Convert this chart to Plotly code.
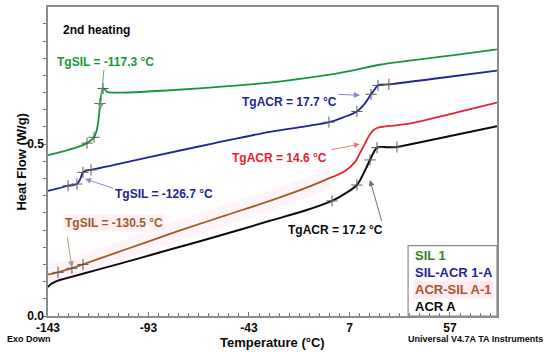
import plotly.graph_objects as go

# ---------------- data ----------------
sil1_x = [-143, -135, -128, -123.6, -120.1, -118.6, -117.6, -117.1, -116.3, -115.6, -114.8, -113.5,
          -110, -100, -84, -55, -28, -3, 10, 22, 40, 60, 80.4]
sil1_y = [0.468, 0.480, 0.492, 0.503, 0.520, 0.545, 0.585, 0.618, 0.650, 0.662, 0.660, 0.652,
          0.650, 0.651, 0.656, 0.668, 0.682, 0.702, 0.716, 0.731, 0.745, 0.760, 0.776]

silacr_x = [-143, -138, -133, -128.6, -127, -125.6, -123.5, -121.6, -110, -92, -60, -32.6, -15,
            -3.2, 4, 10.7, 14.5, 17.7, 20, 21.2, 24, 26.6, 50, 80.4]
silacr_y = [0.364, 0.371, 0.379, 0.384, 0.398, 0.418, 0.424, 0.425, 0.440, 0.463, 0.503, 0.536, 0.552,
            0.564, 0.578, 0.595, 0.617, 0.645, 0.663, 0.671, 0.673, 0.674, 0.691, 0.714]

acrsil_x = [-143, -140, -138, -131.1, -125.6, -110, -95, -77.3, -55, -32.6, -15, -2.7,
            4.8, 10, 12.2, 14.6, 17.2, 19, 20.7, 24, 27.2, 35, 42.1, 60, 80.4]
acrsil_y = [0.121, 0.124, 0.127, 0.139, 0.150, 0.182, 0.213, 0.249, 0.292, 0.335, 0.372, 0.402,
            0.422, 0.450, 0.474, 0.500, 0.529, 0.541, 0.547, 0.551, 0.553, 0.558, 0.566, 0.592, 0.621]
acrsil_split = 11  # index where the trace turns from brown to red

acr_x = [-143, -141.5, -140, -138, -135, -120, -100, -80, -60, -47.5, -32.6, -15, -1.7, 4.8,
         10.7, 14, 17.2, 19, 20.7, 23, 26, 30.6, 50, 80.4]
acr_y = [0.084, 0.093, 0.098, 0.103, 0.108, 0.132, 0.164, 0.197, 0.230, 0.251, 0.277, 0.307, 0.335, 0.356,
         0.381, 0.415, 0.454, 0.476, 0.490, 0.492, 0.491, 0.492, 0.515, 0.552]

# analysis cursor marks on the curves
mark_x = [-123.6, -120.1, -117.1, -115.6,
          -133.0, -128.6, -125.6, -121.6, -3.2, 10.7, 17.7, 21.2, 26.6,
          -138.0, -131.1, -125.6,
          -1.7, 10.7, 17.2, 20.7, 30.6]
mark_y = [0.503, 0.520, 0.618, 0.662,
          0.379, 0.384, 0.418, 0.425, 0.564, 0.595, 0.645, 0.671, 0.674,
          0.127, 0.139, 0.150,
          0.335, 0.381, 0.454, 0.490, 0.492]

x_ticks = [-143, -93, -43, 7, 57]
y_ticks = [0.0, 0.5]

legend_names = ["SIL 1", "SIL-ACR 1-A", "ACR-SIL A-1", "ACR A"]

# label text, text position, arrow tip, arrow tail
tg_labels = ["TgSIL = -117.3 °C", "TgACR = 17.7 °C", "TgSIL = -126.7 °C",
             "TgACR = 14.6 °C", "TgSIL = -130.5 °C", "TgACR = 17.2 °C"]
tg_text_x = [-114.6, -22.6, -85.3, -27.6, -110.2, 0.0]
tg_text_y = [0.740, 0.624, 0.355, 0.460, 0.272, 0.249]
tg_tip_x = [-117.1, 12.2, -124.6, 12.2, -131.1, 17.2]
tg_tip_y = [0.601, 0.642, 0.399, 0.500, 0.142, 0.396]
tg_tail_x = [-115.1, 0.8, -109.7, -2.7, -133.5, 23.2]
tg_tail_y = [0.720, 0.645, 0.370, 0.483, 0.234, 0.272]

# ---------------- styling ----------------
FONT = "Arial, Liberation Sans, sans-serif"
GREEN = "#16983a"
BLUE = "#1e2595"
RED = "#e8232d"
BROWN = "#a3582c"
BLACK = "#0a0a0a"
label_colors = [GREEN, BLUE, BLUE, RED, BROWN, BLACK]
arrow_colors = ["#6f9f7c", "#8a8cc6", "#8a8cc6", "#f07a7a", "#b79c7c", "#707070"]
legend_colors = ["#3d7d22", BLUE, BROWN, BLACK]

fig = go.Figure()

# faint highlight band along the brown part of ACR-SIL A-1
band_x = acrsil_x[:acrsil_split + 1]
band_up = [v + 0.03 for v in acrsil_y[:acrsil_split + 1]]
band_lo = [v - 0.03 for v in acrsil_y[:acrsil_split + 1]]
fig.add_trace(go.Scatter(x=band_x + band_x[::-1], y=band_up + band_lo[::-1], fill="toself",
                         fillcolor="rgba(255,205,220,0.2)", line=dict(width=0), mode="lines",
                         hoverinfo="skip", showlegend=False))

fig.add_trace(go.Scatter(x=acr_x, y=acr_y, mode="lines", line=dict(color=BLACK, width=2),
                         line_shape="spline", showlegend=False))
fig.add_trace(go.Scatter(x=acrsil_x[:acrsil_split + 1], y=acrsil_y[:acrsil_split + 1], mode="lines",
                         line=dict(color=BROWN, width=1.8), line_shape="spline", showlegend=False))
fig.add_trace(go.Scatter(x=acrsil_x[acrsil_split:], y=acrsil_y[acrsil_split:], mode="lines",
                         line=dict(color=RED, width=1.8), line_shape="spline", showlegend=False))
fig.add_trace(go.Scatter(x=silacr_x, y=silacr_y, mode="lines", line=dict(color=BLUE, width=1.8),
                         line_shape="spline", showlegend=False))
fig.add_trace(go.Scatter(x=sil1_x, y=sil1_y, mode="lines", line=dict(color=GREEN, width=1.8),
                         line_shape="spline", showlegend=False))
fig.add_trace(go.Scatter(x=mark_x, y=mark_y, mode="markers",
                         marker=dict(symbol="cross-thin", size=8, line=dict(width=1, color="#5a5a5a")),
                         showlegend=False))

annotations = []
for i, t in enumerate(tg_labels):
    annotations.append(dict(x=tg_tip_x[i], y=tg_tip_y[i], ax=tg_tail_x[i], ay=tg_tail_y[i],
                            xref="x", yref="y", axref="x", ayref="y", text="", showarrow=True,
                            arrowhead=2, arrowsize=1.2, arrowwidth=1, arrowcolor=arrow_colors[i]))
    annotations.append(dict(x=tg_text_x[i], y=tg_text_y[i], xref="x", yref="y", text="<b>%s</b>" % t,
                            showarrow=False, xanchor="center", yanchor="middle",
                            bgcolor="rgba(255,225,235,0.5)" if i == 4 else None,
                            font=dict(family=FONT, size=12, color=label_colors[i])))

annotations.append(dict(x=-119.1, y=0.832, xref="x", yref="y", text="<b>2nd heating</b>", showarrow=False,
                        font=dict(family=FONT, size=12, color=BLACK)))

leg_y = [0.196, 0.141, 0.087, 0.032]
for i, n in enumerate(legend_names):
    annotations.append(dict(x=0.813, y=leg_y[i], xref="paper", yref="paper", text="<b>%s</b>" % n,
                            showarrow=False, xanchor="left", yanchor="middle",
                            bgcolor="rgba(255,225,235,0.7)" if i == 2 else None,
                            font=dict(family=FONT, size=13, color=legend_colors[i])))

# axis titles and instrument notes
annotations.append(dict(x=-0.060, y=0.5, xref="paper", yref="paper", text="<b>Heat Flow (W/g)</b>",
                        textangle=-90, showarrow=False, xanchor="center", yanchor="middle",
                        font=dict(family=FONT, size=13, color=BLACK)))
annotations.append(dict(x=0.5, y=-0.086, xref="paper", yref="paper", text="<b>Temperature (°C)</b>",
                        showarrow=False, xanchor="center", yanchor="middle",
                        font=dict(family=FONT, size=13, color=BLACK)))
annotations.append(dict(x=-0.096, y=-0.075, xref="paper", yref="paper", text="<b>Exo Down</b>",
                        showarrow=False, xanchor="left", yanchor="middle",
                        font=dict(family=FONT, size=9, color=BLACK)))
annotations.append(dict(x=1.107, y=-0.075, xref="paper", yref="paper",
                        text="<b>Universal V4.7A TA Instruments</b>",
                        showarrow=False, xanchor="right", yanchor="middle",
                        font=dict(family=FONT, size=9, color=BLACK)))

fig.update_layout(
    width=550, height=352,
    margin=dict(l=48, r=53, t=5, b=36),
    paper_bgcolor="white", plot_bgcolor="white",
    font=dict(family=FONT, color=BLACK),
    annotations=annotations,
    shapes=[dict(type="rect", xref="paper", yref="paper", x0=0.802, x1=1.0, y0=0.0, y1=0.228,
                 line=dict(color="#8c8c8c", width=1.2), fillcolor="rgba(0,0,0,0)")],
    xaxis=dict(range=[-143, 80.4], tickvals=x_ticks, ticktext=[str(v) for v in x_ticks],
               ticks="inside", ticklen=4, tickcolor="#777", showgrid=False, zeroline=False,
               showline=True, linecolor="#8c8c8c", linewidth=1.5, mirror=True,
               minor=dict(tick0=-143, dtick=5, ticks="inside", ticklen=3, tickcolor="#777"),
               tickfont=dict(family=FONT, size=12, color=BLACK, weight="bold")),
    yaxis=dict(range=[0, 0.899], tickvals=y_ticks, ticktext=["0.0", "0.5"],
               ticks="outside", ticklen=3, tickcolor="#777", showgrid=False, zeroline=False,
               showline=True, linecolor="#8c8c8c", linewidth=1.5, mirror=True,
               minor=dict(tick0=0, dtick=0.05, ticks="outside", ticklen=3, tickcolor="#777"),
               ticklabelstandoff=-3,
               tickfont=dict(family=FONT, size=12, color=BLACK, weight="bold")),
)

fig.write_html("out.html", config={"displayModeBar": False},
               post_script="document.body.style.margin='0';document.body.style.padding='0';")
